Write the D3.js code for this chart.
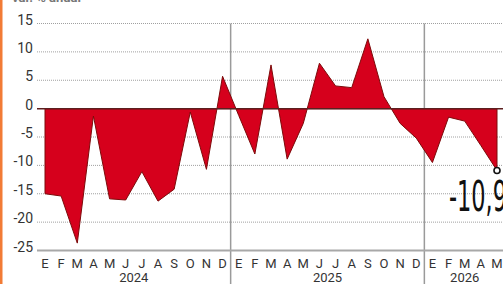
<!DOCTYPE html>
<html>
<head>
<meta charset="utf-8">
<script src="https://cdn.jsdelivr.net/npm/d3@7"></script>
<style>
  html, body { margin: 0; padding: 0; background: #fff; }
  svg { display: block; }
</style>
</head>
<body>
<div id="chart"></div>
<script>
// monthly values, Jan 2024 .. May 2026
const months = ['E','F','M','A','M','J','J','A','S','O','N','D',
                'E','F','M','A','M','J','J','A','S','O','N','D',
                'E','F','M','A','M'];
const values = [-15, -15.4, -23.7, -1.3, -15.9, -16.1, -11.1, -16.3, -14.2, -0.6, -10.7, 5.7,
                -1.2, -8.0, 7.7, -8.9, -2.6, 8.0, 4.0, 3.7, 12.3, 2.1, -2.6, -5.2,
                -9.5, -1.5, -2.2, -6.5, -10.9];
const years = [{label: '2024', from: 0, to: 11}, {label: '2025', from: 12, to: 23}, {label: '2026', from: 24, to: 28}];
const yTicks = [15, 10, 5, 0, -5, -10, -15, -20, -25];
const lastLabel = '-10,9';

const width = 503, height = 284;
const svg = d3.select('#chart').append('svg')
    .attr('width', width)
    .attr('height', height);

const x = d3.scaleLinear().domain([0, months.length - 1]).range([45, 497]);
const y = d3.scaleLinear().domain([-25, 15]).range([250.5, 23.5]);

// orange page edge
svg.append('rect')
    .attr('x', 0).attr('y', 0)
    .attr('width', 2.5).attr('height', height)
    .style('fill', '#f27b35');

// cut-off title at top
svg.append('text')
    .attr('x', 12).attr('y', 2)
    .style('font-family', 'Roboto, sans-serif')
    .style('font-size', '13px')
    .style('font-weight', 'bold')
    .style('fill', '#777')
    .text('var. % anual');

// dotted gridlines
svg.append('g').selectAll('line')
    .data(yTicks.filter(d => d !== 0 && d !== -25))
    .enter().append('line')
    .attr('x1', 37).attr('x2', width)
    .attr('y1', d => y(d)).attr('y2', d => y(d))
    .style('stroke', '#a0a0a0')
    .style('stroke-width', 1)
    .style('stroke-dasharray', '1,1');

// y tick labels
svg.append('g').selectAll('text')
    .data(yTicks)
    .enter().append('text')
    .attr('x', 33)
    .attr('y', d => y(d) + 1)
    .attr('text-anchor', 'end')
    .style('font-family', 'Roboto, sans-serif')
    .style('font-size', '14px')
    .style('fill', '#333')
    .text(d => d);

// year separators
svg.append('g').selectAll('line')
    .data(years.slice(1))
    .enter().append('line')
    .attr('x1', d => x(d.from - 0.5)).attr('x2', d => x(d.from - 0.5))
    .attr('y1', y(15)).attr('y2', height)
    .style('stroke', '#9a9a9a')
    .style('stroke-width', 1.5);

// area
const area = d3.area()
    .x((d, i) => x(i))
    .y0(y(0))
    .y1(d => y(d));

svg.append('path')
    .datum(values)
    .attr('d', area)
    .style('fill', '#d6001c')
    .style('stroke', '#7d0a0a')
    .style('stroke-width', 1)
    .style('stroke-linejoin', 'round');

// zero line
svg.append('line')
    .attr('x1', 37).attr('x2', width)
    .attr('y1', y(0)).attr('y2', y(0))
    .style('stroke', '#5c1f1f')
    .style('stroke-width', 1.5);

// bottom axis line
svg.append('line')
    .attr('x1', 37).attr('x2', width)
    .attr('y1', y(-25)).attr('y2', y(-25))
    .style('stroke', '#a8a8a8')
    .style('stroke-width', 2);

// month labels
svg.append('g').selectAll('text')
    .data(months)
    .enter().append('text')
    .attr('x', (d, i) => x(i))
    .attr('y', 268)
    .attr('text-anchor', 'middle')
    .style('font-family', 'Roboto, sans-serif')
    .style('font-size', '13px')
    .style('fill', '#333')
    .text(d => d);

// year labels
svg.append('g').selectAll('text')
    .data(years)
    .enter().append('text')
    .attr('x', d => (x(d.from) + x(d.to)) / 2)
    .attr('y', 282)
    .attr('text-anchor', 'middle')
    .style('font-family', 'Roboto, sans-serif')
    .style('font-size', '13px')
    .style('fill', '#333')
    .text(d => d.label);

// last value marker and label
const last = values.length - 1;
svg.append('circle')
    .attr('cx', x(last))
    .attr('cy', y(values[last]))
    .attr('r', 3)
    .style('fill', '#fff')
    .style('stroke', '#111')
    .style('stroke-width', 1.6);

svg.append('text')
    .attr('x', 449)
    .attr('y', 211)
    .attr('textLength', 58)
    .attr('lengthAdjust', 'spacingAndGlyphs')
    .style('font-family', '"Liberation Sans Narrow", "DejaVu Sans Condensed", sans-serif')
    .style('font-size', '42px')
    .style('fill', '#111')
    .text(lastLabel);
</script>
</body>
</html>
